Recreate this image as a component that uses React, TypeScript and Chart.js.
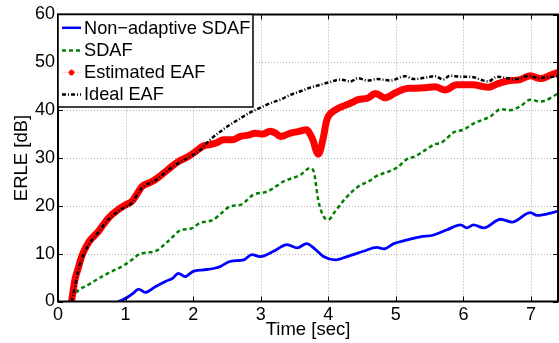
import React, { useEffect, useRef } from 'react';
import { Chart, registerables } from 'chart.js';

Chart.register(...registerables);

const xTicks = [0, 1, 2, 3, 4, 5, 6, 7];
const yTicks = [0, 10, 20, 30, 40, 50, 60];
const seriesNames = ['Non\u2212adaptive SDAF', 'SDAF', 'Estimated EAF', 'Ideal EAF'];
const xTitle = 'Time [sec]';
const yTitle = 'ERLE [dB]';

const nonAdaptiveTime = [0.89, 0.95, 1.04, 1.12, 1.19, 1.29, 1.44, 1.59, 1.7, 1.78, 1.88, 2.0, 2.15, 2.3, 2.4, 2.55, 2.75, 2.87, 2.99, 3.19, 3.39, 3.54, 3.68, 3.8, 3.93, 4.1, 4.28, 4.52, 4.72, 4.82, 4.97, 5.17, 5.36, 5.56, 5.76, 5.96, 6.05, 6.15, 6.3, 6.55, 6.72, 6.99, 7.09, 7.24, 7.42];
const nonAdaptiveErle = [0, 0.3, 1, 1.8, 2.6, 1.9, 3.1, 4.2, 4.9, 5.9, 5.2, 6.3, 6.6, 6.9, 7.3, 8.4, 8.7, 9.8, 9.4, 10.5, 11.9, 11.2, 12.1, 11.0, 9.4, 8.7, 9.4, 10.5, 11.3, 11.0, 12.1, 12.9, 13.5, 13.9, 15, 16, 15.4, 16, 15.4, 17.2, 16.6, 18.6, 18, 18.3, 19];

const sdafTime = [0.22, 0.25, 0.45, 0.7, 0.99, 1.1, 1.19, 1.3, 1.44, 1.63, 1.83, 1.96, 2.1, 2.3, 2.42, 2.55, 2.7, 2.89, 3.1, 3.34, 3.59, 3.73, 3.79, 3.85, 3.93, 4.0, 4.1, 4.25, 4.44, 4.62, 4.7, 4.95, 5.02, 5.19, 5.26, 5.44, 5.58, 5.66, 5.73, 5.86, 6.0, 6.15, 6.4, 6.55, 6.7, 6.84, 6.99, 7.14, 7.42];
const sdafErle = [0.5, 1.5, 3.5, 5.6, 7.7, 8.8, 9.8, 10.2, 10.5, 12.6, 15, 15.2, 16.4, 17.1, 18.5, 19.9, 20.2, 22.3, 23, 25.1, 26.5, 27.9, 26.9, 21.3, 17.8, 17.1, 18.8, 21.5, 24, 25.3, 26.1, 27.5, 28, 30, 30.2, 31.7, 32.9, 33.1, 33.8, 35.4, 35.9, 37.2, 38.7, 40.2, 40, 40.8, 42.2, 41.8, 43.6];

const estimatedTime = [0.2, 0.25, 0.3, 0.35, 0.45, 0.6, 0.75, 0.9, 1.0, 1.09, 1.17, 1.24, 1.35, 1.44, 1.56, 1.68, 1.8, 1.93, 2.05, 2.15, 2.25, 2.35, 2.45, 2.58, 2.7, 2.82, 2.92, 3.03, 3.14, 3.22, 3.29, 3.37, 3.44, 3.55, 3.68, 3.73, 3.78, 3.82, 3.85, 3.88, 3.93, 3.97, 4.0, 4.1, 4.25, 4.35, 4.44, 4.58, 4.7, 4.84, 4.99, 5.1, 5.19, 5.3, 5.44, 5.58, 5.73, 5.9, 6.0, 6.15, 6.27, 6.37, 6.5, 6.65, 6.84, 6.99, 7.14, 7.3, 7.42];
const estimatedErle = [0, 4.5, 7, 9.4, 12.3, 14.7, 17.5, 19.3, 20.2, 20.9, 22.5, 24, 24.8, 25.5, 26.8, 28.2, 29.4, 30.3, 31.5, 32.5, 32.8, 33.2, 33.8, 33.8, 34.5, 34.8, 35.2, 35.0, 35.6, 35.2, 34.5, 34.8, 35.2, 35.5, 35.9, 35.0, 33.5, 31.5, 30.8, 31.5, 34.5, 37.5, 38.7, 40, 41, 41.6, 42.2, 42.5, 43.5, 42.6, 43.6, 44.3, 44.6, 44.6, 44.7, 44.9, 44.2, 45.3, 45.3, 45.3, 45.0, 44.8, 45.5, 46.1, 46.4, 47.2, 46.6, 47.4, 48];

const idealTime = [0.2, 0.25, 0.3, 0.35, 0.45, 0.6, 0.75, 0.94, 1.09, 1.24, 1.44, 1.68, 1.93, 2.1, 2.25, 2.4, 2.55, 2.7, 2.84, 2.99, 3.15, 3.29, 3.44, 3.58, 3.73, 3.88, 4.03, 4.18, 4.33, 4.44, 4.58, 4.72, 4.92, 5.14, 5.27, 5.47, 5.58, 5.7, 5.8, 5.95, 6.05, 6.15, 6.25, 6.37, 6.5, 6.65, 6.74, 6.84, 6.96, 7.11, 7.25, 7.42];
const idealErle = [0, 3, 6.5, 8.8, 11.8, 14.5, 17.2, 19.3, 20.6, 23.7, 25.3, 28, 30.1, 31.6, 33.8, 35.5, 37, 38.3, 39.5, 40.5, 41.5, 42.2, 43.2, 43.9, 44.7, 45.3, 45.9, 46.4, 46, 46.7, 46.2, 46.5, 46.2, 47.1, 46.5, 46.9, 47.1, 46.4, 47.2, 47, 47, 46.9, 46.4, 46, 47, 46.7, 46.5, 46.6, 47.2, 46.7, 46.9, 47.1];

const FONT = '"Liberation Sans", Arial, Helvetica, sans-serif';

function pts(t: number[], v: number[]) {
  return t.map((x, i) => ({ x, y: v[i] }));
}

const framePlugin = {
  id: 'matlabFrame',
  beforeDatasetsDraw(chart: any) {
    const { ctx, chartArea: a, scales } = chart;
    const x = scales.x, y = scales.y;
    ctx.save();
    ctx.strokeStyle = '#b0b0b0';
    ctx.lineWidth = 1;
    ctx.setLineDash([1, 2]);
    for (const t of xTicks) {
      const px = Math.round(x.getPixelForValue(t)) + 0.5;
      if (px <= a.left + 2 || px >= a.right - 2) continue;
      ctx.beginPath(); ctx.moveTo(px, a.top); ctx.lineTo(px, a.bottom); ctx.stroke();
    }
    for (const v of yTicks) {
      const py = Math.round(y.getPixelForValue(v)) + 0.5;
      if (py <= a.top + 2 || py >= a.bottom - 2) continue;
      ctx.beginPath(); ctx.moveTo(a.left, py); ctx.lineTo(a.right, py); ctx.stroke();
    }
    ctx.restore();
  },
  afterDatasetsDraw(chart: any) {
    const { ctx, chartArea: a, scales } = chart;
    const x = scales.x, y = scales.y;
    ctx.save();
    ctx.setLineDash([]);
    ctx.strokeStyle = '#000';
    ctx.lineWidth = 2;
    ctx.strokeRect(a.left, a.top, a.right - a.left, a.bottom - a.top);
    ctx.lineWidth = 1;
    const tl = 5;
    for (const t of xTicks) {
      const px = Math.round(x.getPixelForValue(t)) + 0.5;
      ctx.beginPath(); ctx.moveTo(px, a.bottom); ctx.lineTo(px, a.bottom - tl); ctx.stroke();
      ctx.beginPath(); ctx.moveTo(px, a.top); ctx.lineTo(px, a.top + tl); ctx.stroke();
    }
    for (const v of yTicks) {
      const py = Math.round(y.getPixelForValue(v)) + 0.5;
      ctx.beginPath(); ctx.moveTo(a.left, py); ctx.lineTo(a.left + tl, py); ctx.stroke();
      ctx.beginPath(); ctx.moveTo(a.right, py); ctx.lineTo(a.right - tl, py); ctx.stroke();
    }

    // legend
    const lx = a.left, ly = a.top, lw = 195, lh = 92.5;
    ctx.fillStyle = '#fff';
    ctx.fillRect(lx, ly, lw, lh);
    ctx.strokeStyle = '#000';
    ctx.lineWidth = 1.5;
    ctx.strokeRect(lx, ly, lw, lh);
    const rows = [28.8, 50.6, 72.6, 94.6].map((r) => r - 14.5 + a.top);
    const s0 = lx + 4, s1 = lx + 23;
    ctx.lineWidth = 2.5; ctx.strokeStyle = '#0000ff'; ctx.setLineDash([]);
    ctx.beginPath(); ctx.moveTo(s0, rows[0] - 1); ctx.lineTo(s1, rows[0] - 1); ctx.stroke();
    ctx.strokeStyle = '#008000'; ctx.setLineDash([4, 3]);
    ctx.beginPath(); ctx.moveTo(s0, rows[1]); ctx.lineTo(s1, rows[1]); ctx.stroke();
    ctx.strokeStyle = '#ffb0b0'; ctx.lineWidth = 1.5; ctx.setLineDash([1, 1.5]);
    ctx.beginPath(); ctx.moveTo(s0, rows[2]); ctx.lineTo(s1, rows[2]); ctx.stroke();
    ctx.setLineDash([]);
    ctx.strokeStyle = '#ff0000'; ctx.lineWidth = 1.5;
    const cx = (s0 + s1) / 2, cy = rows[2];
    ctx.beginPath();
    ctx.moveTo(cx - 3, cy); ctx.lineTo(cx + 3, cy);
    ctx.moveTo(cx, cy - 3); ctx.lineTo(cx, cy + 3);
    ctx.moveTo(cx - 2, cy - 2); ctx.lineTo(cx + 2, cy + 2);
    ctx.moveTo(cx - 2, cy + 2); ctx.lineTo(cx + 2, cy - 2);
    ctx.stroke();
    ctx.strokeStyle = '#000'; ctx.lineWidth = 2.5; ctx.setLineDash([4, 2, 1, 2]);
    ctx.beginPath(); ctx.moveTo(s0, rows[3]); ctx.lineTo(s1, rows[3]); ctx.stroke();
    ctx.setLineDash([]);
    ctx.fillStyle = '#000';
    ctx.font = `18.2px ${FONT}`;
    ctx.textBaseline = 'middle';
    ctx.textAlign = 'left';
    seriesNames.forEach((n, i) => ctx.fillText(n, lx + 26, rows[i]));
    ctx.restore();
  },
};

export default function App() {
  const ref = useRef<HTMLCanvasElement | null>(null);
  useEffect(() => {
    if (!ref.current) return;
    const chart = new Chart(ref.current, {
      type: 'line',
      data: {
        datasets: [
          {
            label: seriesNames[3],
            data: pts(idealTime, idealErle),
            borderColor: '#000000',
            borderWidth: 2.5,
            borderDash: [4, 2, 1, 2],
            pointRadius: 0,
            cubicInterpolationMode: 'monotone',
            order: 0,
          },
          {
            label: seriesNames[2],
            data: pts(estimatedTime, estimatedErle),
            borderColor: '#ff0000',
            borderWidth: 7,
            pointRadius: 0,
            cubicInterpolationMode: 'monotone',
            order: 1,
          },
          {
            label: seriesNames[1],
            data: pts(sdafTime, sdafErle),
            borderColor: '#008000',
            borderWidth: 2.5,
            borderDash: [4, 3],
            pointRadius: 0,
            cubicInterpolationMode: 'monotone',
            order: 2,
          },
          {
            label: seriesNames[0],
            data: pts(nonAdaptiveTime, nonAdaptiveErle),
            borderColor: '#0000ff',
            borderWidth: 2.8,
            pointRadius: 0,
            cubicInterpolationMode: 'monotone',
            order: 3,
          },
        ],
      },
      options: {
        animation: false,
        responsive: false,
        devicePixelRatio: 1,
        layout: { padding: { top: 14.5, right: 1, left: 0, bottom: 0 } },
        plugins: { legend: { display: false }, tooltip: { enabled: false } },
        scales: {
          x: {
            type: 'linear',
            min: 0,
            max: 7.4,
            afterBuildTicks: (s: any) => { s.ticks = xTicks.map((v) => ({ value: v })); },
            afterFit: (s: any) => { s.height = 41.5; },
            grid: { display: false, drawTicks: false },
            border: { display: false },
            ticks: { color: '#000', font: { family: FONT, size: 18 }, padding: 2.5, maxRotation: 0, autoSkip: false },
            title: { display: true, text: xTitle, color: '#000', font: { family: FONT, size: 18.5 }, padding: { top: 0, bottom: 1.8 } },
          },
          y: {
            type: 'linear',
            min: 0,
            max: 60,
            afterBuildTicks: (s: any) => { s.ticks = yTicks.map((v) => ({ value: v })); },
            afterFit: (s: any) => { s.width = 58; },
            grid: { display: false, drawTicks: false },
            border: { display: false },
            ticks: { color: '#000', font: { family: FONT, size: 18 }, padding: 3, autoSkip: false },
            title: { display: true, text: yTitle, color: '#000', font: { family: FONT, size: 18.5 }, padding: { top: 10.5, bottom: 0 } },
          },
        },
      },
      plugins: [framePlugin],
    } as any);
    return () => chart.destroy();
  }, []);
  return (
    <div style={{ position: 'fixed', left: 0, top: 0, width: 559, height: 343, background: '#fff' }}>
      <canvas ref={ref} width={559} height={343} style={{ display: 'block' }} />
    </div>
  );
}
